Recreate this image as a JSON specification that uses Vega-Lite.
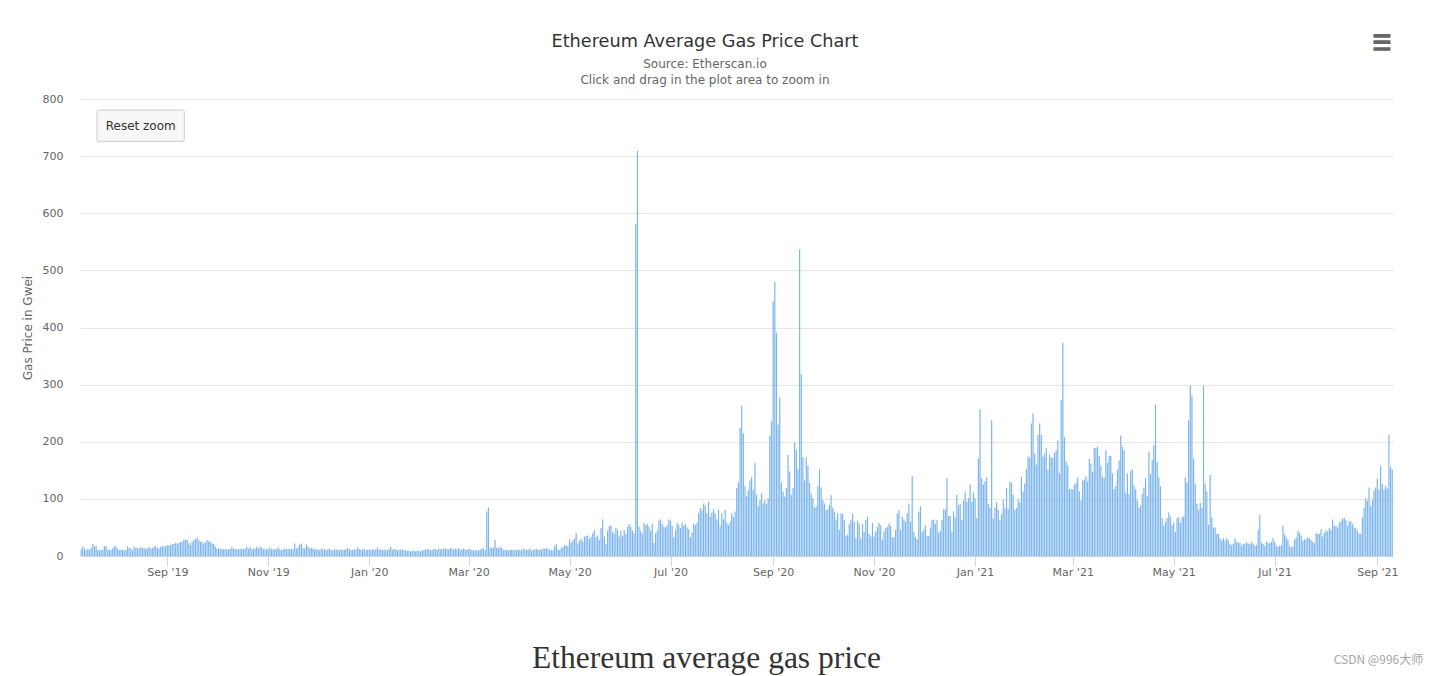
{
"$schema": "https://vega.github.io/schema/vega-lite/v6.json",
"width": 1313, "height": 457,
"autosize": {"type": "none"},
"padding": {"left": 80, "top": 99, "right": 42, "bottom": 120},
"background": "white",
"config": {"view": {"stroke": null}, "font": "DejaVu Sans"},
"title": {"text": "Ethereum Average Gas Price Chart", "subtitle": ["Source: Etherscan.io", "Click and drag in the plot area to zoom in"], "anchor": "middle", "dx": -31.5, "fontSize": 17.7, "fontWeight": "normal", "color": "#333333", "font": "DejaVu Sans", "subtitleFont": "DejaVu Sans", "subtitleFontSize": 12, "subtitleColor": "#666666", "subtitleLineHeight": 16, "subtitlePadding": 8, "offset": -53},
"resolve": {"axis": {"x": "independent", "y": "independent"}},
"datasets": {"gas": [
{"date":"2019-07-11","gwei":12},{"date":"2019-07-12","gwei":17},{"date":"2019-07-13","gwei":13},{"date":"2019-07-14","gwei":10},{"date":"2019-07-15","gwei":13},{"date":"2019-07-16","gwei":11},{"date":"2019-07-17","gwei":14},{"date":"2019-07-18","gwei":21},{"date":"2019-07-19","gwei":17},{"date":"2019-07-20","gwei":17},{"date":"2019-07-21","gwei":11},{"date":"2019-07-22","gwei":10},{"date":"2019-07-23","gwei":11},{"date":"2019-07-24","gwei":11},{"date":"2019-07-25","gwei":17},{"date":"2019-07-26","gwei":17},{"date":"2019-07-27","gwei":11},{"date":"2019-07-28","gwei":11},{"date":"2019-07-29","gwei":10},{"date":"2019-07-30","gwei":13},{"date":"2019-07-31","gwei":17},
{"date":"2019-08-01","gwei":17},{"date":"2019-08-02","gwei":13},{"date":"2019-08-03","gwei":10},{"date":"2019-08-04","gwei":11},{"date":"2019-08-05","gwei":11},{"date":"2019-08-06","gwei":10},{"date":"2019-08-07","gwei":11},{"date":"2019-08-08","gwei":17},{"date":"2019-08-09","gwei":14},{"date":"2019-08-10","gwei":13},{"date":"2019-08-11","gwei":10},{"date":"2019-08-12","gwei":16},{"date":"2019-08-13","gwei":14},{"date":"2019-08-14","gwei":14},{"date":"2019-08-15","gwei":13},{"date":"2019-08-16","gwei":16},{"date":"2019-08-17","gwei":14},{"date":"2019-08-18","gwei":13},{"date":"2019-08-19","gwei":13},{"date":"2019-08-20","gwei":13},{"date":"2019-08-21","gwei":16},{"date":"2019-08-22","gwei":13},{"date":"2019-08-23","gwei":14},{"date":"2019-08-24","gwei":17},{"date":"2019-08-25","gwei":17},{"date":"2019-08-26","gwei":14},{"date":"2019-08-27","gwei":13},{"date":"2019-08-28","gwei":16},{"date":"2019-08-29","gwei":17},{"date":"2019-08-30","gwei":17},{"date":"2019-08-31","gwei":17},
{"date":"2019-09-01","gwei":19},{"date":"2019-09-02","gwei":19},{"date":"2019-09-03","gwei":19},{"date":"2019-09-04","gwei":21},{"date":"2019-09-05","gwei":21},{"date":"2019-09-06","gwei":23},{"date":"2019-09-07","gwei":22},{"date":"2019-09-08","gwei":23},{"date":"2019-09-09","gwei":25},{"date":"2019-09-10","gwei":25},{"date":"2019-09-11","gwei":28},{"date":"2019-09-12","gwei":28},{"date":"2019-09-13","gwei":28},{"date":"2019-09-14","gwei":23},{"date":"2019-09-15","gwei":19},{"date":"2019-09-16","gwei":25},{"date":"2019-09-17","gwei":28},{"date":"2019-09-18","gwei":30},{"date":"2019-09-19","gwei":33},{"date":"2019-09-20","gwei":28},{"date":"2019-09-21","gwei":25},{"date":"2019-09-22","gwei":25},{"date":"2019-09-23","gwei":22},{"date":"2019-09-24","gwei":24},{"date":"2019-09-25","gwei":28},{"date":"2019-09-26","gwei":26},{"date":"2019-09-27","gwei":25},{"date":"2019-09-28","gwei":22},{"date":"2019-09-29","gwei":21},{"date":"2019-09-30","gwei":17},
{"date":"2019-10-01","gwei":13},{"date":"2019-10-02","gwei":13},{"date":"2019-10-03","gwei":13},{"date":"2019-10-04","gwei":12},{"date":"2019-10-05","gwei":12},{"date":"2019-10-06","gwei":12},{"date":"2019-10-07","gwei":12},{"date":"2019-10-08","gwei":12},{"date":"2019-10-09","gwei":12},{"date":"2019-10-10","gwei":16},{"date":"2019-10-11","gwei":13},{"date":"2019-10-12","gwei":12},{"date":"2019-10-13","gwei":12},{"date":"2019-10-14","gwei":12},{"date":"2019-10-15","gwei":12},{"date":"2019-10-16","gwei":13},{"date":"2019-10-17","gwei":12},{"date":"2019-10-18","gwei":13},{"date":"2019-10-19","gwei":16},{"date":"2019-10-20","gwei":13},{"date":"2019-10-21","gwei":16},{"date":"2019-10-22","gwei":12},{"date":"2019-10-23","gwei":13},{"date":"2019-10-24","gwei":13},{"date":"2019-10-25","gwei":16},{"date":"2019-10-26","gwei":13},{"date":"2019-10-27","gwei":16},{"date":"2019-10-28","gwei":15},{"date":"2019-10-29","gwei":12},{"date":"2019-10-30","gwei":12},{"date":"2019-10-31","gwei":12},
{"date":"2019-11-01","gwei":12},{"date":"2019-11-02","gwei":15},{"date":"2019-11-03","gwei":12},{"date":"2019-11-04","gwei":12},{"date":"2019-11-05","gwei":12},{"date":"2019-11-06","gwei":12},{"date":"2019-11-07","gwei":15},{"date":"2019-11-08","gwei":12},{"date":"2019-11-09","gwei":10},{"date":"2019-11-10","gwei":12},{"date":"2019-11-11","gwei":13},{"date":"2019-11-12","gwei":12},{"date":"2019-11-13","gwei":12},{"date":"2019-11-14","gwei":13},{"date":"2019-11-15","gwei":12},{"date":"2019-11-16","gwei":12},{"date":"2019-11-17","gwei":22},{"date":"2019-11-18","gwei":13},{"date":"2019-11-19","gwei":15},{"date":"2019-11-20","gwei":20},{"date":"2019-11-21","gwei":22},{"date":"2019-11-22","gwei":14},{"date":"2019-11-23","gwei":13},{"date":"2019-11-24","gwei":20},{"date":"2019-11-25","gwei":16},{"date":"2019-11-26","gwei":13},{"date":"2019-11-27","gwei":15},{"date":"2019-11-28","gwei":13},{"date":"2019-11-29","gwei":12},{"date":"2019-11-30","gwei":12},
{"date":"2019-12-01","gwei":12},{"date":"2019-12-02","gwei":10},{"date":"2019-12-03","gwei":13},{"date":"2019-12-04","gwei":12},{"date":"2019-12-05","gwei":12},{"date":"2019-12-06","gwei":10},{"date":"2019-12-07","gwei":12},{"date":"2019-12-08","gwei":13},{"date":"2019-12-09","gwei":11},{"date":"2019-12-10","gwei":10},{"date":"2019-12-11","gwei":12},{"date":"2019-12-12","gwei":11},{"date":"2019-12-13","gwei":12},{"date":"2019-12-14","gwei":10},{"date":"2019-12-15","gwei":12},{"date":"2019-12-16","gwei":10},{"date":"2019-12-17","gwei":11},{"date":"2019-12-18","gwei":12},{"date":"2019-12-19","gwei":14},{"date":"2019-12-20","gwei":12},{"date":"2019-12-21","gwei":10},{"date":"2019-12-22","gwei":11},{"date":"2019-12-23","gwei":12},{"date":"2019-12-24","gwei":11},{"date":"2019-12-25","gwei":15},{"date":"2019-12-26","gwei":12},{"date":"2019-12-27","gwei":11},{"date":"2019-12-28","gwei":12},{"date":"2019-12-29","gwei":12},{"date":"2019-12-30","gwei":10},{"date":"2019-12-31","gwei":11},
{"date":"2020-01-01","gwei":12},{"date":"2020-01-02","gwei":10},{"date":"2020-01-03","gwei":12},{"date":"2020-01-04","gwei":11},{"date":"2020-01-05","gwei":12},{"date":"2020-01-06","gwei":15},{"date":"2020-01-07","gwei":11},{"date":"2020-01-08","gwei":12},{"date":"2020-01-09","gwei":10},{"date":"2020-01-10","gwei":12},{"date":"2020-01-11","gwei":10},{"date":"2020-01-12","gwei":11},{"date":"2020-01-13","gwei":12},{"date":"2020-01-14","gwei":16},{"date":"2020-01-15","gwei":11},{"date":"2020-01-16","gwei":12},{"date":"2020-01-17","gwei":12},{"date":"2020-01-18","gwei":10},{"date":"2020-01-19","gwei":11},{"date":"2020-01-20","gwei":11},{"date":"2020-01-21","gwei":12},{"date":"2020-01-22","gwei":10},{"date":"2020-01-23","gwei":9},{"date":"2020-01-24","gwei":9},{"date":"2020-01-25","gwei":9},{"date":"2020-01-26","gwei":8},{"date":"2020-01-27","gwei":9},{"date":"2020-01-28","gwei":9},{"date":"2020-01-29","gwei":8},{"date":"2020-01-30","gwei":9},{"date":"2020-01-31","gwei":9},
{"date":"2020-02-01","gwei":8},{"date":"2020-02-02","gwei":10},{"date":"2020-02-03","gwei":10},{"date":"2020-02-04","gwei":12},{"date":"2020-02-05","gwei":12},{"date":"2020-02-06","gwei":12},{"date":"2020-02-07","gwei":10},{"date":"2020-02-08","gwei":11},{"date":"2020-02-09","gwei":12},{"date":"2020-02-10","gwei":12},{"date":"2020-02-11","gwei":11},{"date":"2020-02-12","gwei":13},{"date":"2020-02-13","gwei":12},{"date":"2020-02-14","gwei":12},{"date":"2020-02-15","gwei":13},{"date":"2020-02-16","gwei":13},{"date":"2020-02-17","gwei":12},{"date":"2020-02-18","gwei":12},{"date":"2020-02-19","gwei":13},{"date":"2020-02-20","gwei":13},{"date":"2020-02-21","gwei":11},{"date":"2020-02-22","gwei":13},{"date":"2020-02-23","gwei":12},{"date":"2020-02-24","gwei":14},{"date":"2020-02-25","gwei":11},{"date":"2020-02-26","gwei":12},{"date":"2020-02-27","gwei":13},{"date":"2020-02-28","gwei":12},{"date":"2020-02-29","gwei":11},
{"date":"2020-03-01","gwei":12},{"date":"2020-03-02","gwei":12},{"date":"2020-03-03","gwei":10},{"date":"2020-03-04","gwei":10},{"date":"2020-03-05","gwei":10},{"date":"2020-03-06","gwei":10},{"date":"2020-03-07","gwei":10},{"date":"2020-03-08","gwei":11},{"date":"2020-03-09","gwei":13},{"date":"2020-03-10","gwei":13},{"date":"2020-03-11","gwei":10},{"date":"2020-03-12","gwei":78},{"date":"2020-03-13","gwei":85},{"date":"2020-03-14","gwei":15},{"date":"2020-03-15","gwei":14},{"date":"2020-03-16","gwei":15},{"date":"2020-03-17","gwei":28},{"date":"2020-03-18","gwei":15},{"date":"2020-03-19","gwei":13},{"date":"2020-03-20","gwei":16},{"date":"2020-03-21","gwei":14},{"date":"2020-03-22","gwei":10},{"date":"2020-03-23","gwei":11},{"date":"2020-03-24","gwei":10},{"date":"2020-03-25","gwei":10},{"date":"2020-03-26","gwei":10},{"date":"2020-03-27","gwei":11},{"date":"2020-03-28","gwei":11},{"date":"2020-03-29","gwei":10},{"date":"2020-03-30","gwei":11},{"date":"2020-03-31","gwei":11},
{"date":"2020-04-01","gwei":11},{"date":"2020-04-02","gwei":10},{"date":"2020-04-03","gwei":13},{"date":"2020-04-04","gwei":11},{"date":"2020-04-05","gwei":11},{"date":"2020-04-06","gwei":11},{"date":"2020-04-07","gwei":13},{"date":"2020-04-08","gwei":10},{"date":"2020-04-09","gwei":11},{"date":"2020-04-10","gwei":12},{"date":"2020-04-11","gwei":12},{"date":"2020-04-12","gwei":11},{"date":"2020-04-13","gwei":11},{"date":"2020-04-14","gwei":11},{"date":"2020-04-15","gwei":13},{"date":"2020-04-16","gwei":13},{"date":"2020-04-17","gwei":13},{"date":"2020-04-18","gwei":13},{"date":"2020-04-19","gwei":10},{"date":"2020-04-20","gwei":11},{"date":"2020-04-21","gwei":10},{"date":"2020-04-22","gwei":17},{"date":"2020-04-23","gwei":21},{"date":"2020-04-24","gwei":12},{"date":"2020-04-25","gwei":10},{"date":"2020-04-26","gwei":14},{"date":"2020-04-27","gwei":16},{"date":"2020-04-28","gwei":19},{"date":"2020-04-29","gwei":19},{"date":"2020-04-30","gwei":17},
{"date":"2020-05-01","gwei":29},{"date":"2020-05-02","gwei":23},{"date":"2020-05-03","gwei":27},{"date":"2020-05-04","gwei":31},{"date":"2020-05-05","gwei":40},{"date":"2020-05-06","gwei":22},{"date":"2020-05-07","gwei":27},{"date":"2020-05-08","gwei":30},{"date":"2020-05-09","gwei":25},{"date":"2020-05-10","gwei":34},{"date":"2020-05-11","gwei":35},{"date":"2020-05-12","gwei":36},{"date":"2020-05-13","gwei":30},{"date":"2020-05-14","gwei":34},{"date":"2020-05-15","gwei":40},{"date":"2020-05-16","gwei":45},{"date":"2020-05-17","gwei":33},{"date":"2020-05-18","gwei":36},{"date":"2020-05-19","gwei":28},{"date":"2020-05-20","gwei":49},{"date":"2020-05-21","gwei":64},{"date":"2020-05-22","gwei":34},{"date":"2020-05-23","gwei":21},{"date":"2020-05-24","gwei":44},{"date":"2020-05-25","gwei":53},{"date":"2020-05-26","gwei":53},{"date":"2020-05-27","gwei":42},{"date":"2020-05-28","gwei":39},{"date":"2020-05-29","gwei":49},{"date":"2020-05-30","gwei":46},{"date":"2020-05-31","gwei":34},
{"date":"2020-06-01","gwei":44},{"date":"2020-06-02","gwei":35},{"date":"2020-06-03","gwei":46},{"date":"2020-06-04","gwei":39},{"date":"2020-06-05","gwei":51},{"date":"2020-06-06","gwei":56},{"date":"2020-06-07","gwei":51},{"date":"2020-06-08","gwei":45},{"date":"2020-06-09","gwei":40},{"date":"2020-06-10","gwei":581},{"date":"2020-06-11","gwei":709},{"date":"2020-06-12","gwei":51},{"date":"2020-06-13","gwei":44},{"date":"2020-06-14","gwei":39},{"date":"2020-06-15","gwei":58},{"date":"2020-06-16","gwei":54},{"date":"2020-06-17","gwei":56},{"date":"2020-06-18","gwei":51},{"date":"2020-06-19","gwei":44},{"date":"2020-06-20","gwei":56},{"date":"2020-06-21","gwei":23},{"date":"2020-06-22","gwei":40},{"date":"2020-06-23","gwei":44},{"date":"2020-06-24","gwei":62},{"date":"2020-06-25","gwei":64},{"date":"2020-06-26","gwei":56},{"date":"2020-06-27","gwei":51},{"date":"2020-06-28","gwei":50},{"date":"2020-06-29","gwei":54},{"date":"2020-06-30","gwei":64},
{"date":"2020-07-01","gwei":62},{"date":"2020-07-02","gwei":53},{"date":"2020-07-03","gwei":33},{"date":"2020-07-04","gwei":46},{"date":"2020-07-05","gwei":58},{"date":"2020-07-06","gwei":54},{"date":"2020-07-07","gwei":49},{"date":"2020-07-08","gwei":58},{"date":"2020-07-09","gwei":53},{"date":"2020-07-10","gwei":56},{"date":"2020-07-11","gwei":50},{"date":"2020-07-12","gwei":47},{"date":"2020-07-13","gwei":33},{"date":"2020-07-14","gwei":41},{"date":"2020-07-15","gwei":57},{"date":"2020-07-16","gwei":54},{"date":"2020-07-17","gwei":58},{"date":"2020-07-18","gwei":75},{"date":"2020-07-19","gwei":84},{"date":"2020-07-20","gwei":80},{"date":"2020-07-21","gwei":92},{"date":"2020-07-22","gwei":88},{"date":"2020-07-23","gwei":75},{"date":"2020-07-24","gwei":95},{"date":"2020-07-25","gwei":69},{"date":"2020-07-26","gwei":76},{"date":"2020-07-27","gwei":82},{"date":"2020-07-28","gwei":75},{"date":"2020-07-29","gwei":64},{"date":"2020-07-30","gwei":81},{"date":"2020-07-31","gwei":53},
{"date":"2020-08-01","gwei":75},{"date":"2020-08-02","gwei":64},{"date":"2020-08-03","gwei":81},{"date":"2020-08-04","gwei":58},{"date":"2020-08-05","gwei":54},{"date":"2020-08-06","gwei":60},{"date":"2020-08-07","gwei":75},{"date":"2020-08-08","gwei":68},{"date":"2020-08-09","gwei":78},{"date":"2020-08-10","gwei":119},{"date":"2020-08-11","gwei":129},{"date":"2020-08-12","gwei":224},{"date":"2020-08-13","gwei":263},{"date":"2020-08-14","gwei":215},{"date":"2020-08-15","gwei":122},{"date":"2020-08-16","gwei":104},{"date":"2020-08-17","gwei":115},{"date":"2020-08-18","gwei":132},{"date":"2020-08-19","gwei":138},{"date":"2020-08-20","gwei":116},{"date":"2020-08-21","gwei":163},{"date":"2020-08-22","gwei":107},{"date":"2020-08-23","gwei":87},{"date":"2020-08-24","gwei":98},{"date":"2020-08-25","gwei":110},{"date":"2020-08-26","gwei":92},{"date":"2020-08-27","gwei":98},{"date":"2020-08-28","gwei":91},{"date":"2020-08-29","gwei":101},{"date":"2020-08-30","gwei":211},{"date":"2020-08-31","gwei":236},
{"date":"2020-09-01","gwei":446},{"date":"2020-09-02","gwei":480},{"date":"2020-09-03","gwei":391},{"date":"2020-09-04","gwei":230},{"date":"2020-09-05","gwei":277},{"date":"2020-09-06","gwei":128},{"date":"2020-09-07","gwei":113},{"date":"2020-09-08","gwei":104},{"date":"2020-09-09","gwei":119},{"date":"2020-09-10","gwei":177},{"date":"2020-09-11","gwei":148},{"date":"2020-09-12","gwei":107},{"date":"2020-09-13","gwei":119},{"date":"2020-09-14","gwei":199},{"date":"2020-09-15","gwei":186},{"date":"2020-09-16","gwei":152},{"date":"2020-09-17","gwei":537},{"date":"2020-09-18","gwei":318},{"date":"2020-09-19","gwei":173},{"date":"2020-09-20","gwei":132},{"date":"2020-09-21","gwei":173},{"date":"2020-09-22","gwei":158},{"date":"2020-09-23","gwei":128},{"date":"2020-09-24","gwei":109},{"date":"2020-09-25","gwei":101},{"date":"2020-09-26","gwei":84},{"date":"2020-09-27","gwei":87},{"date":"2020-09-28","gwei":122},{"date":"2020-09-29","gwei":152},{"date":"2020-09-30","gwei":120},
{"date":"2020-10-01","gwei":98},{"date":"2020-10-02","gwei":92},{"date":"2020-10-03","gwei":80},{"date":"2020-10-04","gwei":82},{"date":"2020-10-05","gwei":89},{"date":"2020-10-06","gwei":107},{"date":"2020-10-07","gwei":85},{"date":"2020-10-08","gwei":78},{"date":"2020-10-09","gwei":64},{"date":"2020-10-10","gwei":75},{"date":"2020-10-11","gwei":46},{"date":"2020-10-12","gwei":75},{"date":"2020-10-13","gwei":74},{"date":"2020-10-14","gwei":63},{"date":"2020-10-15","gwei":35},{"date":"2020-10-16","gwei":37},{"date":"2020-10-17","gwei":56},{"date":"2020-10-18","gwei":63},{"date":"2020-10-19","gwei":74},{"date":"2020-10-20","gwei":60},{"date":"2020-10-21","gwei":31},{"date":"2020-10-22","gwei":62},{"date":"2020-10-23","gwei":57},{"date":"2020-10-24","gwei":31},{"date":"2020-10-25","gwei":56},{"date":"2020-10-26","gwei":42},{"date":"2020-10-27","gwei":63},{"date":"2020-10-28","gwei":69},{"date":"2020-10-29","gwei":39},{"date":"2020-10-30","gwei":34},{"date":"2020-10-31","gwei":58},
{"date":"2020-11-01","gwei":34},{"date":"2020-11-02","gwei":43},{"date":"2020-11-03","gwei":51},{"date":"2020-11-04","gwei":58},{"date":"2020-11-05","gwei":54},{"date":"2020-11-06","gwei":28},{"date":"2020-11-07","gwei":43},{"date":"2020-11-08","gwei":49},{"date":"2020-11-09","gwei":51},{"date":"2020-11-10","gwei":57},{"date":"2020-11-11","gwei":53},{"date":"2020-11-12","gwei":33},{"date":"2020-11-13","gwei":33},{"date":"2020-11-14","gwei":46},{"date":"2020-11-15","gwei":74},{"date":"2020-11-16","gwei":80},{"date":"2020-11-17","gwei":46},{"date":"2020-11-18","gwei":69},{"date":"2020-11-19","gwei":64},{"date":"2020-11-20","gwei":60},{"date":"2020-11-21","gwei":75},{"date":"2020-11-22","gwei":92},{"date":"2020-11-23","gwei":60},{"date":"2020-11-24","gwei":140},{"date":"2020-11-25","gwei":43},{"date":"2020-11-26","gwei":33},{"date":"2020-11-27","gwei":29},{"date":"2020-11-28","gwei":78},{"date":"2020-11-29","gwei":87},{"date":"2020-11-30","gwei":42},
{"date":"2020-12-01","gwei":46},{"date":"2020-12-02","gwei":54},{"date":"2020-12-03","gwei":35},{"date":"2020-12-04","gwei":35},{"date":"2020-12-05","gwei":50},{"date":"2020-12-06","gwei":63},{"date":"2020-12-07","gwei":64},{"date":"2020-12-08","gwei":56},{"date":"2020-12-09","gwei":63},{"date":"2020-12-10","gwei":41},{"date":"2020-12-11","gwei":44},{"date":"2020-12-12","gwei":63},{"date":"2020-12-13","gwei":82},{"date":"2020-12-14","gwei":82},{"date":"2020-12-15","gwei":136},{"date":"2020-12-16","gwei":70},{"date":"2020-12-17","gwei":70},{"date":"2020-12-18","gwei":42},{"date":"2020-12-19","gwei":78},{"date":"2020-12-20","gwei":67},{"date":"2020-12-21","gwei":107},{"date":"2020-12-22","gwei":89},{"date":"2020-12-23","gwei":91},{"date":"2020-12-24","gwei":64},{"date":"2020-12-25","gwei":97},{"date":"2020-12-26","gwei":113},{"date":"2020-12-27","gwei":95},{"date":"2020-12-28","gwei":101},{"date":"2020-12-29","gwei":125},{"date":"2020-12-30","gwei":95},{"date":"2020-12-31","gwei":111},
{"date":"2021-01-01","gwei":101},{"date":"2021-01-02","gwei":66},{"date":"2021-01-03","gwei":170},{"date":"2021-01-04","gwei":257},{"date":"2021-01-05","gwei":136},{"date":"2021-01-06","gwei":125},{"date":"2021-01-07","gwei":131},{"date":"2021-01-08","gwei":138},{"date":"2021-01-09","gwei":91},{"date":"2021-01-10","gwei":85},{"date":"2021-01-11","gwei":237},{"date":"2021-01-12","gwei":66},{"date":"2021-01-13","gwei":85},{"date":"2021-01-14","gwei":94},{"date":"2021-01-15","gwei":81},{"date":"2021-01-16","gwei":63},{"date":"2021-01-17","gwei":74},{"date":"2021-01-18","gwei":99},{"date":"2021-01-19","gwei":84},{"date":"2021-01-20","gwei":119},{"date":"2021-01-21","gwei":82},{"date":"2021-01-22","gwei":130},{"date":"2021-01-23","gwei":128},{"date":"2021-01-24","gwei":107},{"date":"2021-01-25","gwei":81},{"date":"2021-01-26","gwei":84},{"date":"2021-01-27","gwei":99},{"date":"2021-01-28","gwei":94},{"date":"2021-01-29","gwei":139},{"date":"2021-01-30","gwei":113},{"date":"2021-01-31","gwei":127},
{"date":"2021-02-01","gwei":152},{"date":"2021-02-02","gwei":174},{"date":"2021-02-03","gwei":172},{"date":"2021-02-04","gwei":232},{"date":"2021-02-05","gwei":250},{"date":"2021-02-06","gwei":179},{"date":"2021-02-07","gwei":160},{"date":"2021-02-08","gwei":212},{"date":"2021-02-09","gwei":232},{"date":"2021-02-10","gwei":212},{"date":"2021-02-11","gwei":174},{"date":"2021-02-12","gwei":179},{"date":"2021-02-13","gwei":189},{"date":"2021-02-14","gwei":151},{"date":"2021-02-15","gwei":177},{"date":"2021-02-16","gwei":172},{"date":"2021-02-17","gwei":172},{"date":"2021-02-18","gwei":181},{"date":"2021-02-19","gwei":185},{"date":"2021-02-20","gwei":202},{"date":"2021-02-21","gwei":145},{"date":"2021-02-22","gwei":273},{"date":"2021-02-23","gwei":373},{"date":"2021-02-24","gwei":208},{"date":"2021-02-25","gwei":165},{"date":"2021-02-26","gwei":158},{"date":"2021-02-27","gwei":117},{"date":"2021-02-28","gwei":117},
{"date":"2021-03-01","gwei":117},{"date":"2021-03-02","gwei":125},{"date":"2021-03-03","gwei":128},{"date":"2021-03-04","gwei":138},{"date":"2021-03-05","gwei":113},{"date":"2021-03-06","gwei":97},{"date":"2021-03-07","gwei":132},{"date":"2021-03-08","gwei":134},{"date":"2021-03-09","gwei":139},{"date":"2021-03-10","gwei":130},{"date":"2021-03-11","gwei":170},{"date":"2021-03-12","gwei":162},{"date":"2021-03-13","gwei":148},{"date":"2021-03-14","gwei":189},{"date":"2021-03-15","gwei":189},{"date":"2021-03-16","gwei":192},{"date":"2021-03-17","gwei":175},{"date":"2021-03-18","gwei":158},{"date":"2021-03-19","gwei":139},{"date":"2021-03-20","gwei":136},{"date":"2021-03-21","gwei":185},{"date":"2021-03-22","gwei":163},{"date":"2021-03-23","gwei":175},{"date":"2021-03-24","gwei":175},{"date":"2021-03-25","gwei":145},{"date":"2021-03-26","gwei":117},{"date":"2021-03-27","gwei":123},{"date":"2021-03-28","gwei":151},{"date":"2021-03-29","gwei":167},{"date":"2021-03-30","gwei":211},{"date":"2021-03-31","gwei":191},
{"date":"2021-04-01","gwei":185},{"date":"2021-04-02","gwei":110},{"date":"2021-04-03","gwei":145},{"date":"2021-04-04","gwei":109},{"date":"2021-04-05","gwei":149},{"date":"2021-04-06","gwei":152},{"date":"2021-04-07","gwei":123},{"date":"2021-04-08","gwei":117},{"date":"2021-04-09","gwei":97},{"date":"2021-04-10","gwei":84},{"date":"2021-04-11","gwei":88},{"date":"2021-04-12","gwei":109},{"date":"2021-04-13","gwei":120},{"date":"2021-04-14","gwei":137},{"date":"2021-04-15","gwei":105},{"date":"2021-04-16","gwei":183},{"date":"2021-04-17","gwei":144},{"date":"2021-04-18","gwei":168},{"date":"2021-04-19","gwei":194},{"date":"2021-04-20","gwei":265},{"date":"2021-04-21","gwei":165},{"date":"2021-04-22","gwei":138},{"date":"2021-04-23","gwei":122},{"date":"2021-04-24","gwei":66},{"date":"2021-04-25","gwei":53},{"date":"2021-04-26","gwei":60},{"date":"2021-04-27","gwei":66},{"date":"2021-04-28","gwei":76},{"date":"2021-04-29","gwei":69},{"date":"2021-04-30","gwei":54},
{"date":"2021-05-01","gwei":58},{"date":"2021-05-02","gwei":42},{"date":"2021-05-03","gwei":66},{"date":"2021-05-04","gwei":68},{"date":"2021-05-05","gwei":58},{"date":"2021-05-06","gwei":68},{"date":"2021-05-07","gwei":69},{"date":"2021-05-08","gwei":138},{"date":"2021-05-09","gwei":129},{"date":"2021-05-10","gwei":237},{"date":"2021-05-11","gwei":298},{"date":"2021-05-12","gwei":281},{"date":"2021-05-13","gwei":170},{"date":"2021-05-14","gwei":127},{"date":"2021-05-15","gwei":91},{"date":"2021-05-16","gwei":81},{"date":"2021-05-17","gwei":93},{"date":"2021-05-18","gwei":85},{"date":"2021-05-19","gwei":298},{"date":"2021-05-20","gwei":126},{"date":"2021-05-21","gwei":113},{"date":"2021-05-22","gwei":55},{"date":"2021-05-23","gwei":142},{"date":"2021-05-24","gwei":68},{"date":"2021-05-25","gwei":50},{"date":"2021-05-26","gwei":50},{"date":"2021-05-27","gwei":39},{"date":"2021-05-28","gwei":39},{"date":"2021-05-29","gwei":31},{"date":"2021-05-30","gwei":27},{"date":"2021-05-31","gwei":31},
{"date":"2021-06-01","gwei":27},{"date":"2021-06-02","gwei":31},{"date":"2021-06-03","gwei":27},{"date":"2021-06-04","gwei":21},{"date":"2021-06-05","gwei":19},{"date":"2021-06-06","gwei":22},{"date":"2021-06-07","gwei":31},{"date":"2021-06-08","gwei":25},{"date":"2021-06-09","gwei":23},{"date":"2021-06-10","gwei":23},{"date":"2021-06-11","gwei":18},{"date":"2021-06-12","gwei":21},{"date":"2021-06-13","gwei":22},{"date":"2021-06-14","gwei":24},{"date":"2021-06-15","gwei":22},{"date":"2021-06-16","gwei":21},{"date":"2021-06-17","gwei":25},{"date":"2021-06-18","gwei":22},{"date":"2021-06-19","gwei":18},{"date":"2021-06-20","gwei":19},{"date":"2021-06-21","gwei":46},{"date":"2021-06-22","gwei":72},{"date":"2021-06-23","gwei":23},{"date":"2021-06-24","gwei":21},{"date":"2021-06-25","gwei":18},{"date":"2021-06-26","gwei":25},{"date":"2021-06-27","gwei":23},{"date":"2021-06-28","gwei":22},{"date":"2021-06-29","gwei":25},{"date":"2021-06-30","gwei":31},
{"date":"2021-07-01","gwei":25},{"date":"2021-07-02","gwei":18},{"date":"2021-07-03","gwei":16},{"date":"2021-07-04","gwei":18},{"date":"2021-07-05","gwei":19},{"date":"2021-07-06","gwei":53},{"date":"2021-07-07","gwei":38},{"date":"2021-07-08","gwei":33},{"date":"2021-07-09","gwei":29},{"date":"2021-07-10","gwei":18},{"date":"2021-07-11","gwei":15},{"date":"2021-07-12","gwei":17},{"date":"2021-07-13","gwei":29},{"date":"2021-07-14","gwei":33},{"date":"2021-07-15","gwei":44},{"date":"2021-07-16","gwei":41},{"date":"2021-07-17","gwei":36},{"date":"2021-07-18","gwei":27},{"date":"2021-07-19","gwei":29},{"date":"2021-07-20","gwei":29},{"date":"2021-07-21","gwei":33},{"date":"2021-07-22","gwei":31},{"date":"2021-07-23","gwei":28},{"date":"2021-07-24","gwei":25},{"date":"2021-07-25","gwei":23},{"date":"2021-07-26","gwei":40},{"date":"2021-07-27","gwei":39},{"date":"2021-07-28","gwei":38},{"date":"2021-07-29","gwei":47},{"date":"2021-07-30","gwei":34},{"date":"2021-07-31","gwei":41},
{"date":"2021-08-01","gwei":45},{"date":"2021-08-02","gwei":43},{"date":"2021-08-03","gwei":49},{"date":"2021-08-04","gwei":46},{"date":"2021-08-05","gwei":64},{"date":"2021-08-06","gwei":53},{"date":"2021-08-07","gwei":53},{"date":"2021-08-08","gwei":50},{"date":"2021-08-09","gwei":58},{"date":"2021-08-10","gwei":61},{"date":"2021-08-11","gwei":65},{"date":"2021-08-12","gwei":67},{"date":"2021-08-13","gwei":63},{"date":"2021-08-14","gwei":53},{"date":"2021-08-15","gwei":61},{"date":"2021-08-16","gwei":61},{"date":"2021-08-17","gwei":56},{"date":"2021-08-18","gwei":50},{"date":"2021-08-19","gwei":49},{"date":"2021-08-20","gwei":44},{"date":"2021-08-21","gwei":39},{"date":"2021-08-22","gwei":39},{"date":"2021-08-23","gwei":67},{"date":"2021-08-24","gwei":85},{"date":"2021-08-25","gwei":101},{"date":"2021-08-26","gwei":97},{"date":"2021-08-27","gwei":120},{"date":"2021-08-28","gwei":87},{"date":"2021-08-29","gwei":98},{"date":"2021-08-30","gwei":115},{"date":"2021-08-31","gwei":120},
{"date":"2021-09-01","gwei":135},{"date":"2021-09-02","gwei":116},{"date":"2021-09-03","gwei":158},{"date":"2021-09-04","gwei":126},{"date":"2021-09-05","gwei":116},{"date":"2021-09-06","gwei":123},{"date":"2021-09-07","gwei":118},{"date":"2021-09-08","gwei":212},{"date":"2021-09-09","gwei":156},{"date":"2021-09-10","gwei":151}
]},
"layer": [
{"data": {"name": "gas"},
 "mark": {"type": "bar", "width": 1.2, "color": "#7cb5ec"},
 "encoding": {
  "x": {"field": "date", "type": "temporal",
   "scale": {"type": "utc", "padding": 0, "domain": [{"year": 2019, "month": 7, "date": 10, "hours": 6, "minutes": 14, "utc": true}, {"year": 2021, "month": 9, "date": 10, "hours": 11, "minutes": 17, "utc": true}]},
   "axis": {"values": [{"year": 2019, "month": 9, "date": 1, "utc": true}, {"year": 2019, "month": 11, "date": 1, "utc": true}, {"year": 2020, "month": 1, "date": 1, "utc": true}, {"year": 2020, "month": 3, "date": 1, "utc": true}, {"year": 2020, "month": 5, "date": 1, "utc": true}, {"year": 2020, "month": 7, "date": 1, "utc": true}, {"year": 2020, "month": 9, "date": 1, "utc": true}, {"year": 2020, "month": 11, "date": 1, "utc": true}, {"year": 2021, "month": 1, "date": 1, "utc": true}, {"year": 2021, "month": 3, "date": 1, "utc": true}, {"year": 2021, "month": 5, "date": 1, "utc": true}, {"year": 2021, "month": 7, "date": 1, "utc": true}, {"year": 2021, "month": 9, "date": 1, "utc": true}],
    "labelExpr": "utcFormat(datum.value, '%b \\'%y')", "grid": false, "domainColor": "#ccd6eb", "tickColor": "#ccd6eb", "tickSize": 10, "labelPadding": 0, "labelColor": "#666666", "labelFontSize": 11, "labelFont": "DejaVu Sans", "labelFlush": false, "labelOverlap": false,
    "title": "Ethereum average gas price", "titleFont": "Liberation Serif", "titleFontSize": 31.5, "titleFontWeight": "normal", "titleColor": "#333333", "titleX": 626, "titleY": 111, "titleBaseline": "alphabetic", "titleAlign": "center", "titleAnchor": "start"}},
  "y": {"field": "gwei", "type": "quantitative",
   "scale": {"domain": [0, 800], "nice": false},
   "axis": {"values": [0, 100, 200, 300, 400, 500, 600, 700, 800], "grid": true, "gridColor": "#e6e6e6", "domain": false, "ticks": false, "tickSize": 0, "labelPadding": 17, "labelColor": "#666666", "labelFontSize": 11, "labelFont": "DejaVu Sans",
    "title": "Gas Price in Gwei", "titleColor": "#666666", "titleFontSize": 12, "titleFontWeight": "normal", "titleFont": "DejaVu Sans", "titlePadding": 8}}
 }},
{"data": {"values": [{"label": "Reset zoom"}]},
 "mark": {"type": "rect", "fill": "#f7f7f7", "stroke": "#cccccc", "strokeWidth": 1, "cornerRadius": 2},
 "encoding": {
  "x": {"datum": {"year": 2019, "month": 7, "date": 20, "hours": 12, "minutes": 43, "utc": true}, "type": "temporal", "axis": null},
  "x2": {"datum": {"year": 2019, "month": 9, "date": 11, "hours": 6, "minutes": 29, "utc": true}},
  "y": {"datum": 780.7, "type": "quantitative", "axis": null},
  "y2": {"datum": 725.9}
 }},
{"data": {"values": [{"label": "Reset zoom"}]},
 "mark": {"type": "text", "fontSize": 12, "color": "#333333", "font": "DejaVu Sans", "align": "center", "baseline": "middle"},
 "encoding": {
  "x": {"datum": {"year": 2019, "month": 8, "date": 15, "hours": 22, "minutes": 20, "utc": true}, "type": "temporal", "axis": null},
  "y": {"datum": 753.6, "type": "quantitative", "axis": null},
  "text": {"field": "label"}
 }},
{"data": {"values": [{"label": "☰"}]},
 "mark": {"type": "text", "fontSize": 21, "color": "#666666", "stroke": "#666666", "strokeWidth": 1.6, "font": "DejaVu Sans", "align": "center", "baseline": "middle"},
 "encoding": {
  "x": {"datum": {"year": 2021, "month": 9, "date": 3, "hours": 19, "minutes": 55, "utc": true}, "type": "temporal", "axis": null},
  "y": {"datum": 897, "type": "quantitative", "axis": null},
  "text": {"field": "label"}
 }},
{"data": {"values": [{"label": "CSDN @996大师"}]},
 "mark": {"type": "text", "fontSize": 12, "color": "#a6a6a6", "font": "Noto Sans CJK SC", "align": "center", "baseline": "middle"},
 "encoding": {
  "x": {"datum": {"year": 2021, "month": 9, "date": 1, "hours": 16, "minutes": 48, "utc": true}, "type": "temporal", "axis": null},
  "y": {"datum": -182, "type": "quantitative", "axis": null},
  "text": {"field": "label"}
 }}
]
}
